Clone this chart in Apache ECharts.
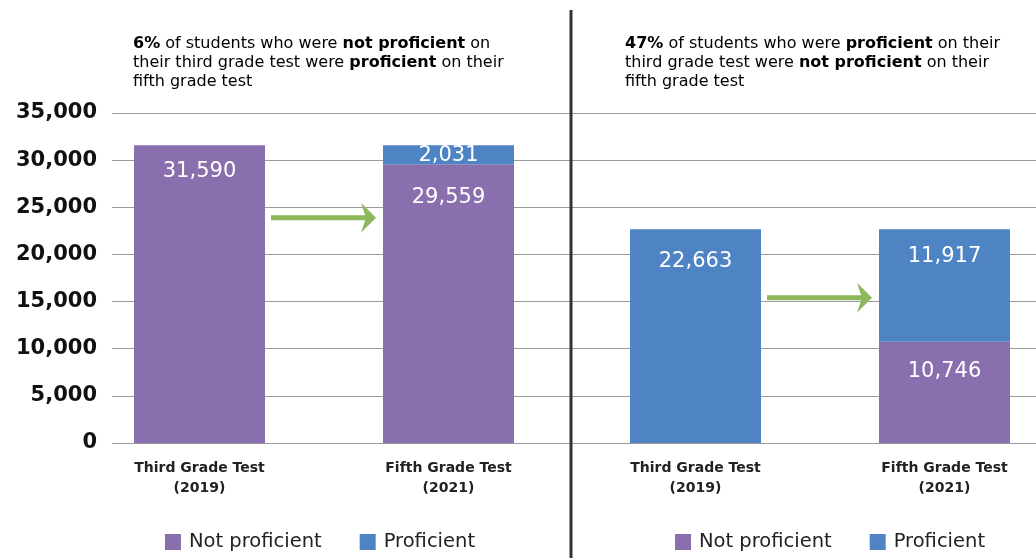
<!DOCTYPE html>
<html><head><meta charset="utf-8">
<script src="https://cdn.jsdelivr.net/npm/echarts@6/dist/echarts.min.js"></script>
<style>html,body{margin:0;padding:0;background:#fff}#c{width:1036px;height:558px}</style>
</head><body><div id="c"></div>
<script>
const categories = ['Third Grade Test\n(2019)', 'Fifth Grade Test\n(2021)'];
const leftNotProficient = [31590, 29559];
const leftProficient = [null, 2031];
const rightNotProficient = [null, 10746];
const rightProficient = [22663, 11917];
const yTicks = [0, 5000, 10000, 15000, 20000, 25000, 30000, 35000];
const arrowLevels = [23900, 15400];
const seriesNames = ['Not proficient', 'Proficient'];

const PURPLE = '#8a6fae', BLUE = '#4e84c4', GREEN = '#8db85b';
const FONT = 'DejaVu Sans';
const fmt = v => Number(v).toLocaleString('en-US');

function items(vals, dists) {
  return vals.map((v, i) => v == null ? null : ({
    value: v,
    label: dists[i] == null ? {position: 'inside', offset: [0, 1]} : {position: 'insideTop', distance: dists[i]}
  }));
}
const barLabel = {show: true, color: '#fff', fontFamily: FONT, fontSize: 21, formatter: p => fmt(p.value)};

const chart = echarts.init(document.getElementById('c'), null, {renderer: 'canvas'});
const gTop = 113, gBottom = 115;
const hiddenY = {type: 'value', min: 0, max: 35000, interval: 5000, show: false, splitLine: {show: false}};
const catX = (gi) => ({
  type: 'category', gridIndex: gi, data: categories, boundaryGap: false,
  axisLine: {show: false}, axisTick: {show: false},
  axisLabel: {color: '#222', fontFamily: FONT, fontWeight: 'bold', fontSize: 14, lineHeight: 20, margin: 15}
});
const option = {
  animation: false,
  textStyle: {fontFamily: FONT},
  grid: [
    {left: 112, right: 0, top: gTop, bottom: gBottom},
    {left: 199.5, width: 249, top: gTop, bottom: gBottom},
    {left: 695.5, width: 249, top: gTop, bottom: gBottom}
  ],
  xAxis: [
    {type: 'value', gridIndex: 0, show: false, min: 0, max: 1},
    catX(1), catX(2)
  ],
  yAxis: [
    {type: 'value', gridIndex: 0, min: yTicks[0], max: yTicks[yTicks.length - 1], interval: yTicks[1] - yTicks[0],
     axisLine: {show: false}, axisTick: {show: false},
     axisLabel: {color: '#111', fontFamily: FONT, fontWeight: 'bold', fontSize: 21, margin: 15, formatter: v => fmt(v)},
     splitLine: {lineStyle: {color: '#9a9a9a', width: 1}}},
    Object.assign({gridIndex: 1}, hiddenY),
    Object.assign({gridIndex: 2}, hiddenY)
  ],
  legend: [
    {data: seriesNames, left: 165, top: 532, padding: 0, icon: 'rect', itemWidth: 16, itemHeight: 16, itemGap: 38,
     textStyle: {color: '#222', fontFamily: FONT, fontSize: 19.5, padding: [0, 0, 0, 3]}},
    {data: seriesNames, left: 675, top: 532, padding: 0, icon: 'rect', itemWidth: 16, itemHeight: 16, itemGap: 38,
     textStyle: {color: '#222', fontFamily: FONT, fontSize: 19.5, padding: [0, 0, 0, 3]}}
  ],
  series: [
    {name: seriesNames[0], type: 'bar', xAxisIndex: 1, yAxisIndex: 1, stack: 'L', barWidth: 131,
     itemStyle: {color: PURPLE}, label: barLabel, data: items(leftNotProficient, [16, 23])},
    {name: seriesNames[1], type: 'bar', xAxisIndex: 1, yAxisIndex: 1, stack: 'L', barWidth: 131,
     itemStyle: {color: BLUE}, label: barLabel, data: items(leftProficient, [null, null])},
    {name: seriesNames[0], type: 'bar', xAxisIndex: 2, yAxisIndex: 2, stack: 'R', barWidth: 131,
     itemStyle: {color: PURPLE}, label: barLabel, data: items(rightNotProficient, [null, 19])},
    {name: seriesNames[1], type: 'bar', xAxisIndex: 2, yAxisIndex: 2, stack: 'R', barWidth: 131,
     itemStyle: {color: BLUE}, label: barLabel, data: items(rightProficient, [22, 17])}
  ]
};
chart.setOption(option);

const TS = 16;
const titleRich = {
  n: {fontFamily: FONT, fontSize: TS, color: '#1a1a1a', lineHeight: 19},
  b: {fontFamily: FONT, fontSize: TS, color: '#1a1a1a', fontWeight: 'bold', lineHeight: 19},
  p: {fontFamily: FONT, fontSize: TS, color: PURPLE, fontWeight: 'bold', lineHeight: 19},
  u: {fontFamily: FONT, fontSize: TS, color: BLUE, fontWeight: 'bold', lineHeight: 19}
};
function arrow(gi, level) {
  const a = chart.convertToPixel({xAxisIndex: gi, yAxisIndex: gi}, [0, level]);
  const b = chart.convertToPixel({xAxisIndex: gi, yAxisIndex: gi}, [1, level]);
  const x0 = a[0] + 65.5 + 6, x1 = b[0] - 65.5 - 7, y = a[1];
  return {type: 'group', children: [
    {type: 'rect', shape: {x: x0, y: y - 2.5, width: x1 - x0 - 10, height: 5}, style: {fill: GREEN}},
    {type: 'polygon', shape: {points: [[x1 - 15, y - 15], [x1, y], [x1 - 15, y + 15], [x1 - 10, y]]}, style: {fill: GREEN}}
  ]};
}
chart.setOption({graphic: [
  {type: 'line', shape: {x1: 571, y1: 10, x2: 571, y2: 558}, style: {stroke: '#333', lineWidth: 3}, z: 10},
  {type: 'text', left: 133, top: 36, style: {
    text: '{b|6%}{n| of students who were }{p|not proficient}{n| on}\n{n|their third grade test were }{u|proficient}{n| on their}\n{n|fifth grade test}',
    rich: titleRich}},
  {type: 'text', left: 625, top: 36, style: {
    text: '{b|47%}{n| of students who were }{u|proficient}{n| on their}\n{n|third grade test were }{p|not proficient}{n| on their}\n{n|fifth grade test}',
    rich: titleRich}},
  arrow(1, arrowLevels[0]),
  arrow(2, arrowLevels[1])
]});
</script></body></html>
